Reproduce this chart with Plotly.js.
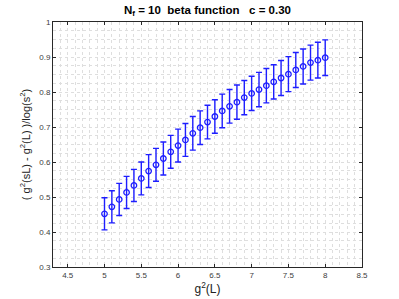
<!DOCTYPE html>
<html>
<head>
<meta charset="utf-8">
<script src="https://cdn.plot.ly/plotly-3.0.1.min.js"></script>
<style>
  html, body { margin: 0; padding: 0; background: #fff; }
  #chart { width: 399px; height: 299px; }
</style>
</head>
<body>
<div id="chart"></div>
<script>
// g^2(L) values, 5.0 .. 8.0 in steps of 0.1
const g2L = [5.0, 5.1, 5.2, 5.3, 5.4, 5.5, 5.6, 5.7, 5.8, 5.9,
             6.0, 6.1, 6.2, 6.3, 6.4, 6.5, 6.6, 6.7, 6.8, 6.9,
             7.0, 7.1, 7.2, 7.3, 7.4, 7.5, 7.6, 7.7, 7.8, 7.9, 8.0];

// discrete beta function
const beta = [0.452, 0.472, 0.493, 0.513, 0.533, 0.553, 0.574, 0.592, 0.610, 0.629,
              0.647, 0.663, 0.682, 0.698, 0.714, 0.730, 0.746, 0.759, 0.771, 0.784,
              0.796, 0.807, 0.818, 0.829, 0.840, 0.851, 0.863, 0.873, 0.884, 0.891, 0.898];

// error bar half-heights
const err = [0.046, 0.046, 0.046, 0.046, 0.046, 0.047, 0.047, 0.047, 0.047, 0.047,
             0.047, 0.047, 0.048, 0.048, 0.048, 0.048, 0.048, 0.048, 0.049, 0.049,
             0.049, 0.049, 0.049, 0.049, 0.050, 0.050, 0.050, 0.050, 0.050, 0.051, 0.051];

const blue = 'rgb(30,30,255)';
const gridCol = 'rgb(222,222,222)';
const fontFam = 'Liberation Sans, Arial, sans-serif';

const trace = {
    type: 'scatter',
    mode: 'markers',
    x: g2L,
    y: beta,
    marker: {
        symbol: 'circle-open',
        size: 5.5,
        color: blue,
        line: {width: 1.3, color: blue}
    },
    error_y: {
        type: 'data',
        array: err,
        visible: true,
        color: blue,
        thickness: 1.4,
        width: 3
    },
    showlegend: false
};

const axisCommon = {
    showline: true,
    linecolor: 'rgb(40,40,40)',
    linewidth: 1,
    mirror: 'ticks',
    ticks: 'inside',
    ticklen: 3,
    tickcolor: 'rgb(40,40,40)',
    zeroline: false,
    showgrid: true,
    gridcolor: gridCol,
    griddash: 'dot',
    gridwidth: 1,
    tickfont: {family: fontFam, size: 8, color: 'rgb(60,60,60)'}
};

const layout = {
    width: 399,
    height: 299,
    margin: {l: 53, r: 37, t: 22, b: 32},
    paper_bgcolor: '#fff',
    plot_bgcolor: '#fff',
    title: {
        text: '<b>N<sub>f</sub> = 10  beta function   c = 0.30</b>',
        x: 0.52,
        xanchor: 'center',
        y: 0.98,
        yanchor: 'top',
        font: {family: fontFam, size: 11.5, color: '#000'}
    },
    xaxis: Object.assign({}, axisCommon, {
        range: [4.3, 8.5],
        tick0: 4.5,
        dtick: 0.5,
        minor: {dtick: 0.1, showgrid: true, gridcolor: gridCol, griddash: 'dot', gridwidth: 1},
        title: {text: 'g<sup>2</sup>(L)', standoff: 2,
                font: {family: fontFam, size: 12, color: '#222'}}
    }),
    yaxis: Object.assign({}, axisCommon, {
        range: [0.3, 1],
        tick0: 0.3,
        dtick: 0.1,
        minor: {dtick: 0.025, showgrid: true, gridcolor: gridCol, griddash: 'dot', gridwidth: 1},
        title: {text: '( g<sup>2</sup>(sL) - g<sup>2</sup>(L) )/log(s<sup>2</sup>)', standoff: 6,
                font: {family: fontFam, size: 11, color: '#222'}}
    })
};

Plotly.newPlot('chart', [trace], layout, {displayModeBar: false, staticPlot: true});
</script>
</body>
</html>
